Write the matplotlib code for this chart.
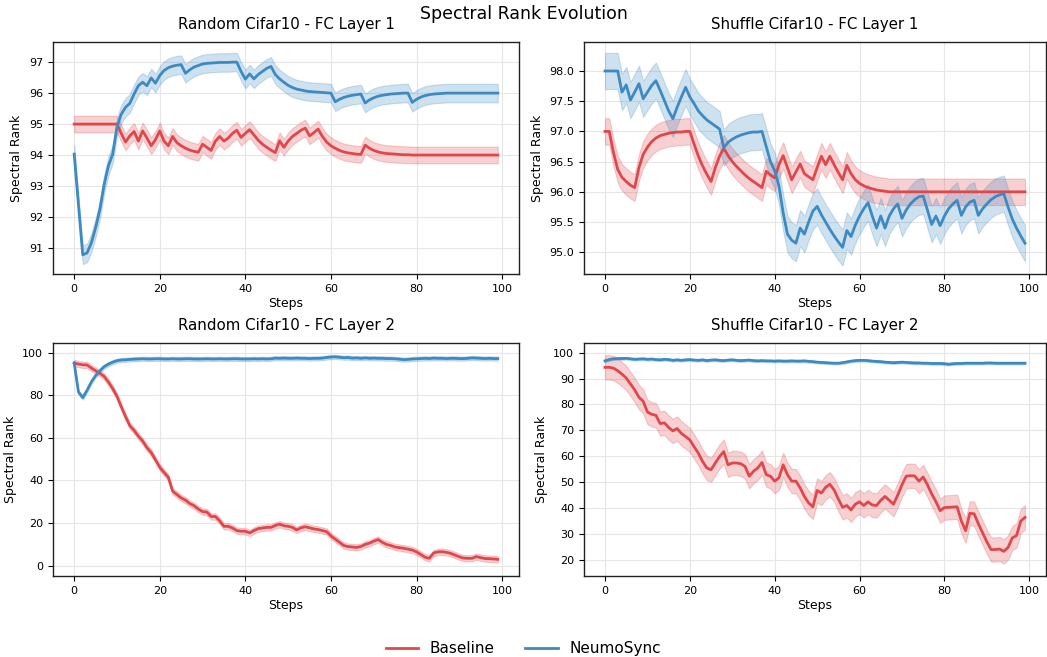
import numpy as np
import matplotlib
matplotlib.use("Agg")
import matplotlib.pyplot as plt

steps = list(range(100))

# ---------------- Random Cifar10 - FC Layer 1 ----------------
rand_fc1_baseline = [95.0] * 11 + [
    94.70, 94.42, 94.62, 94.76, 94.45, 94.78, 94.55, 94.30, 94.50, 94.78,
    94.45, 94.30, 94.60, 94.40, 94.30, 94.22, 94.16, 94.12, 94.09, 94.35,
    94.25, 94.15, 94.45, 94.60, 94.45, 94.55, 94.70, 94.80, 94.57, 94.70,
    94.82, 94.65, 94.48, 94.35, 94.25, 94.16, 94.08, 94.46, 94.25, 94.45,
    94.60, 94.70, 94.80, 94.87, 94.62, 94.72, 94.84, 94.60, 94.42, 94.30,
    94.22, 94.15, 94.10, 94.07, 94.05, 94.03, 94.02, 94.32, 94.22, 94.15,
    94.10, 94.07, 94.05, 94.04, 94.03, 94.02, 94.01, 94.01] + [94.0] * 21
rand_fc1_neumo = [
    94.03, 92.40, 90.78, 90.84, 91.16, 91.65, 92.24, 93.05, 93.65, 94.03,
    94.90, 95.32, 95.54, 95.67, 95.97, 96.24, 96.35, 96.24, 96.49, 96.32,
    96.57, 96.73, 96.82, 96.87, 96.90, 96.92, 96.64, 96.75, 96.84, 96.89,
    96.94, 96.96, 96.97, 96.98, 96.99, 96.99, 96.99, 97.00, 97.00, 96.70,
    96.45, 96.62, 96.46, 96.60, 96.70, 96.80, 96.86, 96.60, 96.46, 96.35,
    96.25, 96.18, 96.13, 96.10, 96.07, 96.05, 96.04, 96.03, 96.02, 96.01,
    96.00, 95.72, 95.80, 95.86, 95.90, 95.93, 95.95, 95.97, 95.68, 95.78,
    95.85, 95.90, 95.93, 95.95, 95.97, 95.98, 95.99, 96.00, 96.00, 95.70,
    95.80, 95.87, 95.92, 95.95, 95.97, 95.98, 95.99] + [96.0] * 13

# ---------------- Shuffle Cifar10 - FC Layer 1 ----------------
shuf_fc1_baseline = [
    97.00, 97.00, 96.65, 96.37, 96.24, 96.17, 96.11, 96.07, 96.40, 96.62,
    96.74, 96.83, 96.89, 96.93, 96.95, 96.97, 96.98, 96.99, 96.99, 97.00,
    97.00, 96.79, 96.59, 96.43, 96.29, 96.17, 96.40, 96.59, 96.72, 96.60,
    96.50, 96.42, 96.35, 96.28, 96.22, 96.17, 96.12, 96.07, 96.34, 96.28,
    96.23, 96.45, 96.60, 96.40, 96.20, 96.33, 96.46, 96.30, 96.25, 96.20,
    96.40, 96.59, 96.45, 96.59, 96.45, 96.32, 96.20, 96.44, 96.30, 96.20,
    96.14, 96.10, 96.07, 96.05, 96.03, 96.02, 96.01] + [96.0] * 33
shuf_fc1_neumo = [
    98.00, 98.00, 98.00, 98.00, 97.65, 97.77, 97.52, 97.65, 97.79, 97.54,
    97.65, 97.76, 97.84, 97.68, 97.51, 97.34, 97.21, 97.40, 97.57, 97.73,
    97.57, 97.46, 97.34, 97.26, 97.19, 97.14, 97.09, 97.04, 96.73, 96.82,
    96.87, 96.91, 96.94, 96.96, 96.98, 96.99, 96.99, 97.00, 96.75, 96.50,
    96.35, 96.10, 95.65, 95.30, 95.20, 95.15, 95.40, 95.30, 95.50, 95.68,
    95.76, 95.62, 95.50, 95.38, 95.27, 95.17, 95.08, 95.36, 95.26, 95.45,
    95.60, 95.72, 95.82, 95.60, 95.40, 95.60, 95.40, 95.60, 95.72, 95.80,
    95.56, 95.70, 95.80, 95.87, 95.92, 95.93, 95.70, 95.46, 95.60, 95.44,
    95.60, 95.72, 95.80, 95.86, 95.61, 95.75, 95.83, 95.86, 95.61, 95.72,
    95.80, 95.87, 95.92, 95.95, 95.97, 95.75, 95.55, 95.40, 95.27, 95.15]

# ---------------- Random Cifar10 - FC Layer 2 ----------------
rand_fc2_baseline = [
    95.1, 94.6, 94.3, 94.2, 92.8, 91.5, 90.3, 88.8, 86.2, 83.1,
    79.5, 74.6, 70.0, 65.7, 63.5, 60.8, 58.5, 55.4, 53.1, 49.7,
    46.2, 43.8, 41.5, 35.0, 33.4, 31.8, 30.8, 29.2, 28.2, 26.6,
    25.4, 25.2, 23.1, 23.1, 21.1, 18.5, 18.5, 17.7, 16.5, 16.2,
    16.2, 15.4, 16.5, 17.4, 17.7, 18.0, 18.0, 18.9, 19.5, 18.8,
    18.5, 18.0, 16.8, 17.8, 18.3, 17.8, 17.3, 17.0, 16.5, 16.0,
    14.0, 12.5, 11.0, 9.5, 9.0, 8.8, 8.6, 9.0, 10.0, 10.6,
    11.5, 12.3, 11.0, 10.0, 9.5, 8.8, 8.5, 8.2, 7.8, 7.4,
    6.5, 5.3, 4.0, 3.5, 6.0, 6.5, 6.6, 6.3, 5.8, 5.0,
    4.2, 3.6, 3.5, 3.5, 4.3, 3.8, 3.4, 3.3, 3.2, 3.0]
rand_fc2_neumo = [
    95.1, 81.5, 78.9, 82.3, 86.2, 89.2, 91.5, 93.4, 94.6, 95.5,
    96.2, 96.5, 96.6, 96.8, 96.9, 97.0, 97.1, 97.0, 97.0, 97.1,
    97.1, 97.0, 97.0, 97.1, 97.0, 97.0, 97.1, 97.1, 97.0, 97.0,
    97.0, 97.1, 97.0, 97.0, 97.1, 97.0, 97.0, 97.1, 97.1, 97.0,
    97.0, 97.0, 97.1, 97.0, 97.1, 97.0, 97.1, 97.4, 97.3, 97.4,
    97.3, 97.3, 97.4, 97.3, 97.3, 97.2, 97.3, 97.3, 97.4, 97.7,
    97.9, 98.0, 97.8, 97.6, 97.7, 97.4, 97.5, 97.3, 97.5, 97.3,
    97.4, 97.3, 97.3, 97.2, 97.2, 97.1, 96.9, 96.7, 96.8, 97.0,
    97.1, 97.2, 97.3, 97.2, 97.4, 97.3, 97.3, 97.2, 97.3, 97.3,
    97.2, 97.2, 97.3, 97.5, 97.4, 97.3, 97.2, 97.3, 97.2, 97.2]

# ---------------- Shuffle Cifar10 - FC Layer 2 ----------------
shuf_fc2_baseline = [
    94.3, 94.3, 94.0, 93.0, 91.7, 90.2, 87.9, 85.6, 82.8, 81.2,
    77.1, 76.2, 75.8, 72.6, 72.9, 71.1, 69.8, 70.7, 68.8, 67.6,
    66.3, 63.7, 61.2, 58.0, 55.5, 54.8, 57.4, 59.9, 61.8, 56.7,
    57.4, 57.4, 57.1, 56.1, 52.3, 54.2, 55.5, 57.6, 52.9, 52.3,
    50.4, 51.7, 56.7, 52.9, 50.4, 50.4, 47.8, 44.5, 42.0, 40.5,
    46.8, 45.8, 48.0, 49.2, 47.0, 43.5, 40.3, 41.0, 39.3, 41.5,
    42.4, 41.0, 42.4, 41.2, 41.0, 43.0, 44.5, 43.0, 41.5, 45.0,
    49.0, 52.3, 52.5, 52.4, 50.4, 52.0, 49.0, 45.5, 42.5, 39.0,
    40.2, 40.3, 40.4, 40.5, 35.0, 31.3, 38.0, 37.8, 34.0, 30.5,
    27.0, 24.0, 24.0, 24.2, 23.3, 24.8, 28.5, 29.4, 35.0, 36.4]
shuf_fc2_neumo = [
    96.8, 97.3, 97.6, 97.7, 97.7, 97.8, 97.6, 97.4, 97.5, 97.6,
    97.4, 97.5, 97.3, 97.2, 97.4, 97.3, 97.0, 97.2, 97.0, 97.2,
    97.3, 97.1, 97.0, 97.2, 96.9, 97.1, 97.2, 97.0, 96.9, 97.1,
    97.2, 97.0, 96.9, 97.0, 97.1, 96.9, 96.8, 96.9, 96.8, 96.8,
    96.7, 96.8, 96.7, 96.7, 96.8, 96.7, 96.7, 96.8, 96.6, 96.5,
    96.3, 96.2, 96.1, 96.0, 95.9, 95.9, 96.1, 96.4, 96.7, 96.9,
    97.0, 97.0, 96.9, 96.7, 96.6, 96.5, 96.3, 96.2, 96.1, 96.2,
    96.3, 96.2, 96.1, 96.0, 96.0, 95.9, 95.9, 95.8, 95.8, 95.8,
    95.7, 95.5, 95.7, 95.8, 95.8, 95.9, 95.9, 95.9, 95.9, 95.9,
    96.0, 96.0, 95.9, 95.9, 95.9, 95.9, 95.9, 95.9, 95.9, 95.9]

# band half-widths (spread across runs)
band_rand_fc1 = (0.27, 0.30)
band_shuf_fc1 = (0.22, 0.30)
band_rand_fc2 = (1.5, 1.0)
band_shuf_fc2 = (4.7, 0.5)

titles = ["Random Cifar10 - FC Layer 1", "Shuffle Cifar10 - FC Layer 1",
          "Random Cifar10 - FC Layer 2", "Shuffle Cifar10 - FC Layer 2"]
series_labels = ["Baseline", "NeumoSync"]
colors = ["#E0474C", "#3D8AC3"]

panels = [
    (rand_fc1_baseline, rand_fc1_neumo, band_rand_fc1, (90.16, 97.65), np.arange(91, 98, 1), "{:.0f}"),
    (shuf_fc1_baseline, shuf_fc1_neumo, band_shuf_fc1, (94.64, 98.48), np.arange(95.0, 98.01, 0.5), "{:.1f}"),
    (rand_fc2_baseline, rand_fc2_neumo, band_rand_fc2, (-4.8, 104.5), np.arange(0, 101, 20), "{:.0f}"),
    (shuf_fc2_baseline, shuf_fc2_neumo, band_shuf_fc2, (13.8, 103.7), np.arange(20, 101, 10), "{:.0f}"),
]

fig = plt.figure(figsize=(10.47, 6.57), dpi=100)
W, H = 1047.0, 657.0
boxes = [(53, 42, 519, 274), (584, 42, 1046, 274), (53, 343, 519, 576), (584, 343, 1046, 576)]

x = np.array(steps)
handles = []
for i, (base, neumo, band, ylim, yt, fmt) in enumerate(panels):
    l, t, r, b = boxes[i]
    ax = fig.add_axes([l / W, 1 - b / H, (r - l) / W, (b - t) / H])
    for j, (vals, hw) in enumerate(zip((base, neumo), band)):
        v = np.array(vals, dtype=float)
        ax.fill_between(x, v - hw, v + hw, color=colors[j], alpha=0.25, linewidth=0.8)
        h, = ax.plot(x, v, color=colors[j], linewidth=2.0, label=series_labels[j])
        if i == 0:
            handles.append(h)
    ax.set_xlim(-4.95, 103.95)
    ax.set_ylim(*ylim)
    ax.set_xticks(np.arange(0, 101, 20))
    ax.set_yticks(yt)
    ax.set_yticklabels([fmt.format(v) for v in yt])
    ax.grid(True, color="#e6e6e6", linewidth=0.8)
    ax.set_axisbelow(True)
    for s in ax.spines.values():
        s.set_color("#222222")
        s.set_linewidth(1.0)
    ax.tick_params(axis="both", labelsize=8, length=3.5, width=0.8, direction="out")
    ax.set_title(titles[i], fontsize=10.8, pad=9.5)
    ax.set_xlabel("Steps", fontsize=9, labelpad=2)
    ax.set_ylabel("Spectral Rank", fontsize=9, labelpad=4)

fig.suptitle("Spectral Rank Evolution", fontsize=12.5, y=0.993)
fig.legend(handles=handles, labels=series_labels, loc="lower center", ncol=2,
           frameon=False, fontsize=11, bbox_to_anchor=(0.5, -0.02), handlelength=2.1,
           columnspacing=2.0)
fig.savefig("out.png", dpi=100)
